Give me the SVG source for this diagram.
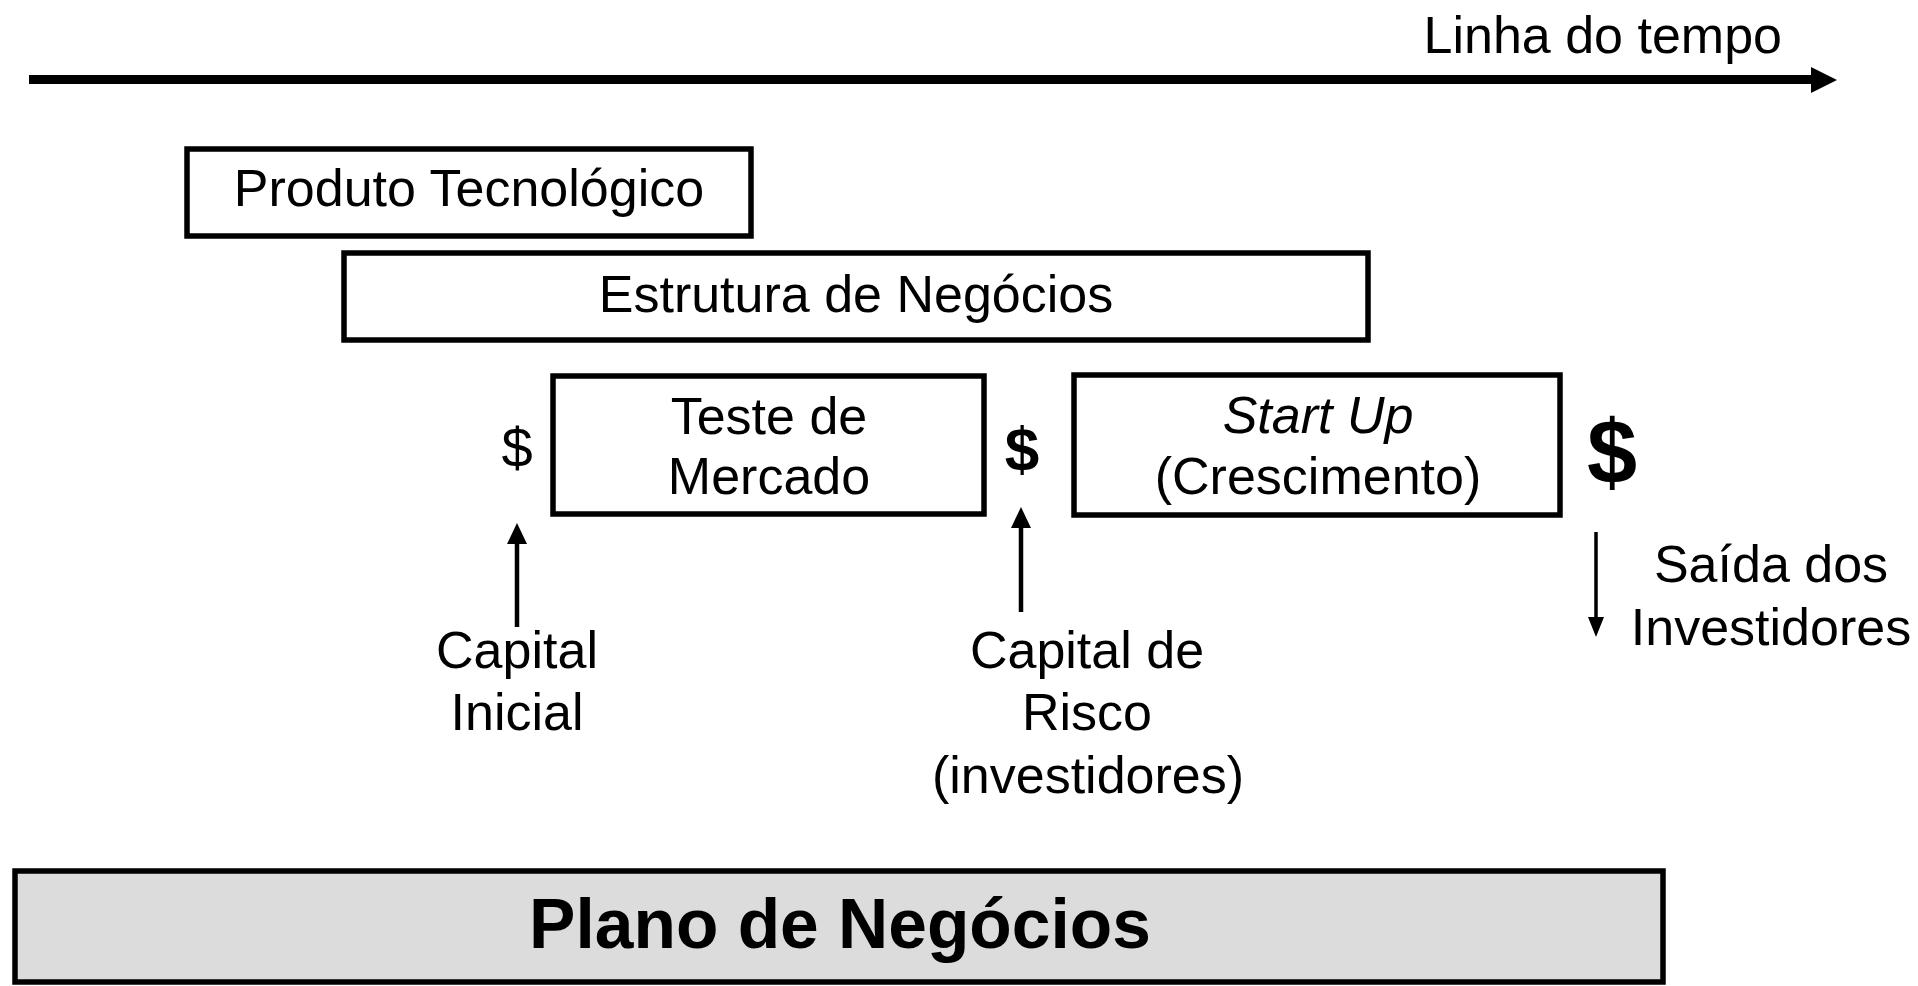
<svg xmlns="http://www.w3.org/2000/svg" width="1918" height="986" viewBox="0 0 1918 986">
<style>
.box{fill:#fff;stroke:#000;stroke-width:5.5}
.t{font-family:"Liberation Sans",Arial,sans-serif;font-size:52px;fill:#000;text-anchor:middle}
.b{font-weight:bold}
.ln{stroke:#000;fill:none}
</style>
<rect width="1918" height="986" fill="#fff"/>
<g id="timeline">
<line class="ln" x1="29" y1="79.5" x2="1814" y2="79.5" stroke-width="9"/>
<polygon points="1811,67 1837,80 1811,93" fill="#000"/>
<text class="t" x="1782" y="53" style="text-anchor:end">Linha do tempo</text>
</g>
<g id="produto">
<rect class="box" x="187" y="149" width="564" height="87"/>
<text class="t" x="469" y="206">Produto Tecnológico</text>
</g>
<g id="estrutura">
<rect class="box" x="344" y="253" width="1024" height="87"/>
<text class="t" x="856" y="312">Estrutura de Negócios</text>
</g>
<g id="teste">
<rect class="box" x="553" y="376" width="431" height="138"/>
<text class="t" x="769" y="434">Teste de</text>
<text class="t" x="769" y="494">Mercado</text>
</g>
<g id="startup">
<rect class="box" x="1074" y="375" width="486" height="140"/>
<text class="t" x="1318" y="433" font-style="italic">Start Up</text>
<text class="t" x="1318" y="494">(Crescimento)</text>
</g>
<g id="dollar1"><text class="t" x="517" y="467" style="font-size:56px">$</text></g>
<g id="dollar2"><text class="t b" x="1022" y="470" style="font-size:62px">$</text></g>
<g id="dollar3"><text class="t b" x="1612" y="483" style="font-size:90px">$</text></g>
<g id="capital-inicial">
<text class="t" x="517" y="668">Capital</text>
<text class="t" x="517" y="730">Inicial</text>
</g>
<g id="capital-risco">
<text class="t" x="1087" y="668">Capital de</text>
<text class="t" x="1087" y="730">Risco</text>
<text class="t" x="1088" y="793">(investidores)</text>
</g>
<g id="saida">
<text class="t" x="1771" y="582">Saída dos</text>
<text class="t" x="1771" y="645">Investidores</text>
</g>
<g id="connectors">
<line class="ln" x1="517" y1="627" x2="517" y2="540" stroke-width="4.5"/>
<polygon points="507,544 517,523 527,544" fill="#000"/>
<line class="ln" x1="1021" y1="612" x2="1021" y2="524" stroke-width="4.5"/>
<polygon points="1011,528 1021,507 1031,528" fill="#000"/>
<line class="ln" x1="1596" y1="532" x2="1596" y2="620" stroke-width="3.5"/>
<polygon points="1588,617 1596,637 1604,617" fill="#000"/>
</g>
<g id="plano">
<rect x="15" y="871" width="1648" height="111" fill="#dcdcdc" stroke="#000" stroke-width="5.5"/>
<text class="t b" x="840" y="948" style="font-size:69.5px">Plano de Negócios</text>
</g>
</svg>
